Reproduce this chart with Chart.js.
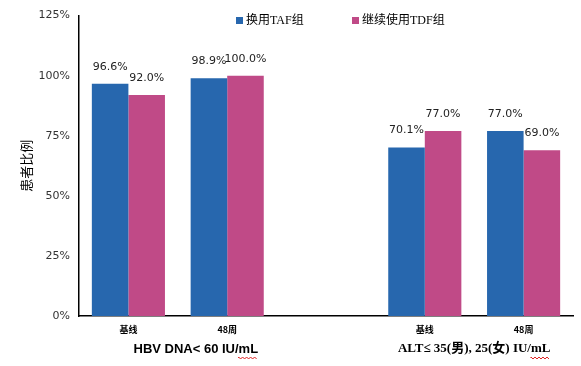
<!DOCTYPE html>
<html><head><meta charset="utf-8">
<script src="https://cdn.jsdelivr.net/npm/chart.js@4"></script>
<style>html,body{margin:0;padding:0;background:#fff;}#wrap{width:581px;height:366px;}</style>
</head><body><div id="wrap"><canvas id="c" width="581" height="366"></canvas></div>
<script>
const categories = ['基线', '48周', '', '基线', '48周'];
const groupLabels = ['HBV DNA< 60 IU/mL', 'ALT≤ 35(男), 25(女) IU/mL'];
const seriesNames = ['换用TAF组', '继续使用TDF组'];
const tafValues = [96.6, 98.9, null, 70.1, 77.0];
const tdfValues = [92.0, 100.0, null, 77.0, 69.0];
const yTicks = [0, 25, 50, 75, 100, 125];
const yTitle = '患者比例';

const BLUE = '#2767AE', PINK = '#C04A87';
const F1 = 'bold 13px "Liberation Sans", "Noto Sans CJK SC"';
const F2 = 'bold 13px "Liberation Serif", "Noto Sans CJK SC"';

const overlay = {
  id: 'overlay',
  afterDatasetsDraw(chart) {
    const ctx = chart.ctx;
    ctx.save();
    ctx.font = '11px "DejaVu Sans"';
    ctx.fillStyle = '#222';
    ctx.textAlign = 'center';
    ctx.textBaseline = 'middle';
    chart.data.datasets.forEach((ds, di) => {
      const meta = chart.getDatasetMeta(di);
      meta.data.forEach((bar, i) => {
        const v = ds.data[i];
        if (v == null) return;
        ctx.fillText(v.toFixed(1) + '%', bar.x, bar.y - 17);
      });
    });
    const xs = chart.scales.x;
    const y = 349;
    ctx.fillStyle = '#000';
    ctx.font = F1;
    const c1 = (xs.getPixelForValue(0) + xs.getPixelForValue(1)) / 2 + 18;
    ctx.fillText(groupLabels[0], c1, y);
    ctx.font = F2;
    const c2 = (xs.getPixelForValue(3) + xs.getPixelForValue(4)) / 2;
    ctx.fillText(groupLabels[1], c2, y);
    function squiggle(text, cx, font) {
      ctx.font = font;
      const w = ctx.measureText(text).width;
      const wm = ctx.measureText('mL').width;
      const x1 = cx + w / 2 - wm, x2 = cx + w / 2;
      ctx.strokeStyle = '#e02020';
      ctx.lineWidth = 1;
      ctx.beginPath();
      let up = true;
      ctx.moveTo(x1, y + 9);
      for (let x = x1; x <= x2; x += 2) { ctx.lineTo(x, up ? y + 8 : y + 10); up = !up; }
      ctx.stroke();
    }
    squiggle(groupLabels[0], c1, F1);
    squiggle(groupLabels[1], c2, F2);
    ctx.font = '12px "Liberation Serif", "Noto Sans CJK SC"';
    ctx.textAlign = 'left';
    const items = [[236, BLUE, seriesNames[0]], [352, PINK, seriesNames[1]]];
    items.forEach(([lx, col, txt]) => {
      ctx.fillStyle = col;
      ctx.fillRect(lx, 17, 7, 7);
      ctx.fillStyle = '#000';
      ctx.fillText(txt, lx + 10, 21);
    });
    ctx.restore();
  }
};

new Chart(document.getElementById('c'), {
  type: 'bar',
  data: {
    labels: categories,
    datasets: [
      { label: seriesNames[0], data: tafValues, backgroundColor: BLUE, borderWidth: 0 },
      { label: seriesNames[1], data: tdfValues, backgroundColor: PINK, borderWidth: 0 }
    ]
  },
  options: {
    responsive: false,
    animation: false,
    devicePixelRatio: 1,
    layout: { padding: { top: 14, right: 8, left: 0, bottom: 0 } },
    plugins: { legend: { display: false }, tooltip: { enabled: false } },
    datasets: { bar: { categoryPercentage: 0.74, barPercentage: 1.0 } },
    scales: {
      x: {
        grid: { display: false, drawTicks: false },
        border: { display: true, color: '#000', width: 1.5 },
        ticks: { color: '#000', font: { family: '"Noto Sans CJK SC"', size: 9, weight: 'bold' }, padding: 8, maxRotation: 0, autoSkip: false },
        afterFit(s) { s.height = 50; }
      },
      y: {
        min: 0, max: 125,
        afterBuildTicks(s) { s.ticks = yTicks.map(v => ({ value: v })); },
        grid: { display: false, drawTicks: false },
        border: { display: true, color: '#000', width: 1.5 },
        ticks: { color: '#333', font: { family: '"DejaVu Sans"', size: 11 }, padding: 9, callback: v => v + '%' },
        title: { display: true, text: yTitle, color: '#000', font: { family: '"Noto Sans CJK SC"', size: 13 }, padding: { top: 18, bottom: 0 } },
        afterFit(s) { s.width = 79; }
      }
    }
  },
  plugins: [overlay]
});
</script>
</body></html>
